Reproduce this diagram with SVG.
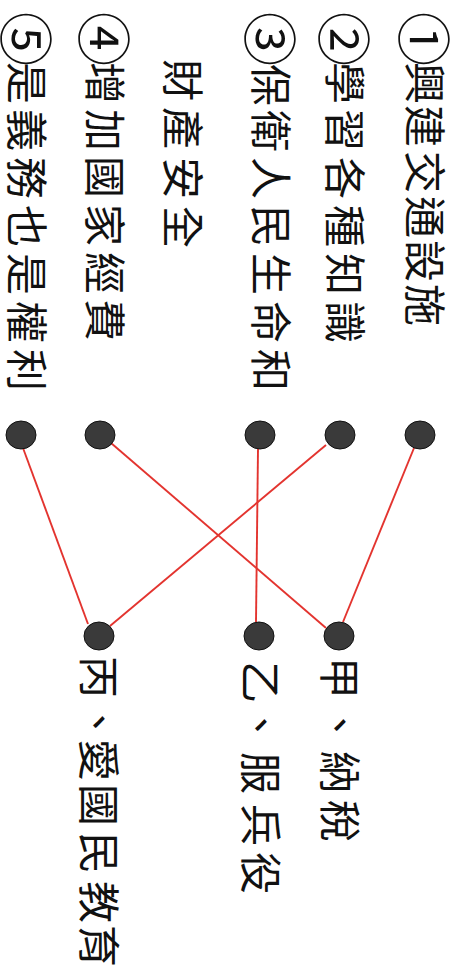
<svg xmlns="http://www.w3.org/2000/svg" width="458" height="966" viewBox="0 0 458 966">
<style>
.t{font-family:"Noto Sans CJK TC","Noto Sans CJK SC",sans-serif;font-size:42px;fill:#111;text-anchor:middle;dominant-baseline:central}
.n{font-size:54px}
.dot{fill:#3a3a3a;stroke:#111;stroke-width:1}
.ln{stroke:#e3342f;stroke-width:1.9;fill:none}
</style>
<rect width="458" height="966" fill="#fff"/>
<g id="item1" transform="translate(427,0) rotate(90)">
<text class="t" x="39 83 126 172 217 261 305" y="0"><tspan class="n">①</tspan>興建交通設施</text>
</g>
<g id="item2" transform="translate(347,0) rotate(90)">
<text class="t" x="39 83 130 178 226 274 322" y="0"><tspan class="n">②</tspan>學習各種知識</text>
</g>
<g id="item3" transform="translate(273,0) rotate(90)">
<text class="t" x="39 85 131 178 226 274 322 370" y="0"><tspan class="n">③</tspan>保衛人民生命和</text>
</g>
<g id="item3b" transform="translate(185,0) rotate(90)">
<text class="t" x="80 128 178 227" y="0">財產安全</text>
</g>
<g id="item4" transform="translate(107,0) rotate(90)">
<text class="t" x="39 83 130 177 225 273 320" y="0"><tspan class="n">④</tspan>增加國家經費</text>
</g>
<g id="item5" transform="translate(29,0) rotate(90)">
<text class="t" x="39 83 130 178 226 274 322 370" y="0"><tspan class="n">⑤</tspan>是義務也是權利</text>
</g>
<g id="connectors">
<line class="ln" x1="23" y1="448" x2="88" y2="624"/>
<line class="ln" x1="111" y1="443" x2="326" y2="628"/>
<line class="ln" x1="258" y1="449" x2="256" y2="622"/>
<line class="ln" x1="326" y1="445" x2="110" y2="626"/>
<line class="ln" x1="414" y1="448" x2="343" y2="622"/>
</g>
<g id="top-dots">
<ellipse class="dot" cx="21" cy="435" rx="15" ry="14"/>
<ellipse class="dot" cx="100" cy="435" rx="15" ry="14"/>
<ellipse class="dot" cx="260" cy="435" rx="15" ry="14"/>
<ellipse class="dot" cx="340" cy="435" rx="15" ry="14"/>
<ellipse class="dot" cx="420" cy="435" rx="15" ry="14"/>
</g>
<g id="jia">
<ellipse class="dot" cx="339" cy="636" rx="15" ry="14"/>
<g transform="translate(342,0) rotate(90)"><text class="t" x="678 725 772 821" y="0">甲、納稅</text></g>
</g>
<g id="yi">
<ellipse class="dot" cx="259" cy="636" rx="15" ry="14"/>
<g transform="translate(263,0) rotate(90)"><text class="t" x="682 725 773 825 873" y="0">乙、服兵役</text></g>
</g>
<g id="bing">
<ellipse class="dot" cx="99" cy="636" rx="15" ry="14"/>
<g transform="translate(101,0) rotate(90)"><text class="t" x="677 722 760 805 853 902 946" y="0">丙、愛國民教育</text></g>
</g>
</svg>
